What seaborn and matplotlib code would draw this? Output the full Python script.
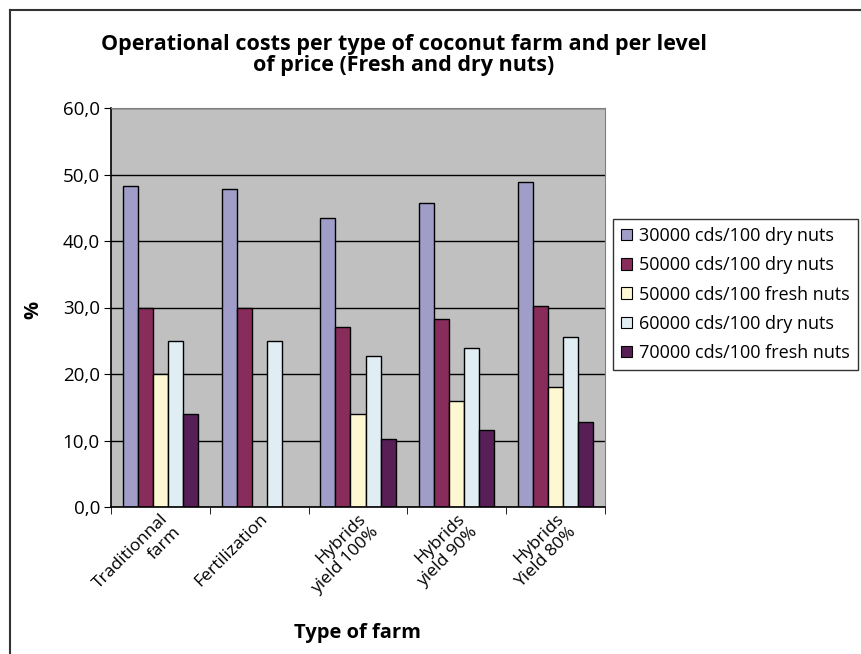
import pandas as pd
import numpy as np
import seaborn as sns
import matplotlib.pyplot as plt
from matplotlib.patches import Rectangle
from matplotlib.lines import Line2D

# datos
granjas = ['Traditionnal\nfarm', 'Fertilization', 'Hybrids\nyield 100%',
           'Hybrids\nyield 90%', 'Hybrids\nYield 80%']
series = ['30000 cds/100 dry nuts', '50000 cds/100 dry nuts',
          '50000 cds/100 fresh nuts', '60000 cds/100 dry nuts',
          '70000 cds/100 fresh nuts']
seco_30000 = [48.2, 47.8, 43.5, 45.7, 48.8]
seco_50000 = [30.0, 30.0, 27.0, 28.3, 30.2]
fresco_50000 = [20.0, np.nan, 14.0, 15.9, 18.0]
seco_60000 = [25.0, 25.0, 22.7, 23.9, 25.5]
fresco_70000 = [14.0, np.nan, 10.3, 11.6, 12.8]
colores = ['#A09DC9', '#882D5B', '#FDF8D2', '#E0EEF4', '#581F56']

valores = [seco_30000, seco_50000, fresco_50000, seco_60000, fresco_70000]
filas = []
for s, vals in zip(series, valores):
    for g, v in zip(granjas, vals):
        filas.append({'farm': g, 'serie': s, 'valor': v})
df = pd.DataFrame(filas)

plt.rcParams['font.family'] = ['Open Sans', 'DejaVu Sans']

W, H = 861, 654
fig = plt.figure(figsize=(W / 100, H / 100), dpi=100)
# area del grafico en pixeles: x 111-605, y 108-507
ax = fig.add_axes([111 / W, 1 - 507 / H, (605 - 111) / W, (507 - 108) / H])
ax.set_facecolor('#C0C0C0')

sns.barplot(data=df, x='farm', y='valor', hue='serie', hue_order=series,
            palette=colores, width=0.76, edgecolor='black', linewidth=1,
            saturation=1, ax=ax, legend=False)

ax.set_ylim(0, 60)
ax.set_yticks(np.arange(0, 61, 10))
ax.set_yticklabels([f'{v:.1f}'.replace('.', ',') for v in np.arange(0, 61, 10)], fontsize=13.5)
ax.yaxis.grid(True, color='black', linewidth=1)
ax.set_axisbelow(True)
ax.set_xlim(-0.5, 4.5)
ax.set_xticks(np.arange(-0.5, 5, 1), minor=True)
ax.tick_params(axis='x', which='major', length=0, pad=3)
ax.tick_params(axis='x', which='minor', length=5, color='black')
ax.tick_params(axis='y', length=5, color='black', pad=3)
for lab in ax.get_xticklabels():
    lab.set_rotation(45)
    lab.set_ha('right')
    lab.set_va('top')
    lab.set_rotation_mode('anchor')
    lab.set_fontsize(12.6)
    lab.set_multialignment('right')
    lab.set_linespacing(1.15)

for lado in ['top', 'right']:
    ax.spines[lado].set_color('#808080')
for lado in ['left', 'bottom']:
    ax.spines[lado].set_color('black')
    ax.spines[lado].set_linewidth(1.2)

ax.set_xlabel('')
ax.set_ylabel('')
fig.text(357 / W, 1 - 633 / H, 'Type of farm', ha='center', va='center',
         fontsize=14.5, fontweight='bold')
fig.text(33 / W, 1 - 310 / H, '%', ha='center', va='center', rotation=90,
         fontsize=14.5, fontweight='bold')

fig.text(404 / W, 1 - 55 / H, 'Operational costs per type of coconut farm and per level\nof price (Fresh and dry nuts)',
         ha='center', va='center', fontsize=15.5, fontweight='bold', linespacing=1.05)

handles = [Rectangle((0, 0), 1, 1, facecolor=c, edgecolor='black', linewidth=0.8) for c in colores]
leg = fig.legend(handles, series, loc='upper left', bbox_to_anchor=(613 / W, 1 - 219 / H),
                 fontsize=13, frameon=True, fancybox=False, edgecolor='black',
                 handlelength=0.6, handleheight=0.6, handletextpad=0.4,
                 labelspacing=0.62, borderpad=0.45, borderaxespad=0)
leg.get_frame().set_linewidth(1)

# marco exterior: solo se ven el borde superior y el izquierdo
y_sup = 1 - 10 / H
x_izq = 10 / W
fig.add_artist(Line2D([x_izq, 1], [y_sup, y_sup], transform=fig.transFigure,
                      color='#333333', linewidth=1.5))
fig.add_artist(Line2D([x_izq, x_izq], [0, y_sup], transform=fig.transFigure,
                      color='#333333', linewidth=1.5))

plt.savefig('out.png', dpi=100)
